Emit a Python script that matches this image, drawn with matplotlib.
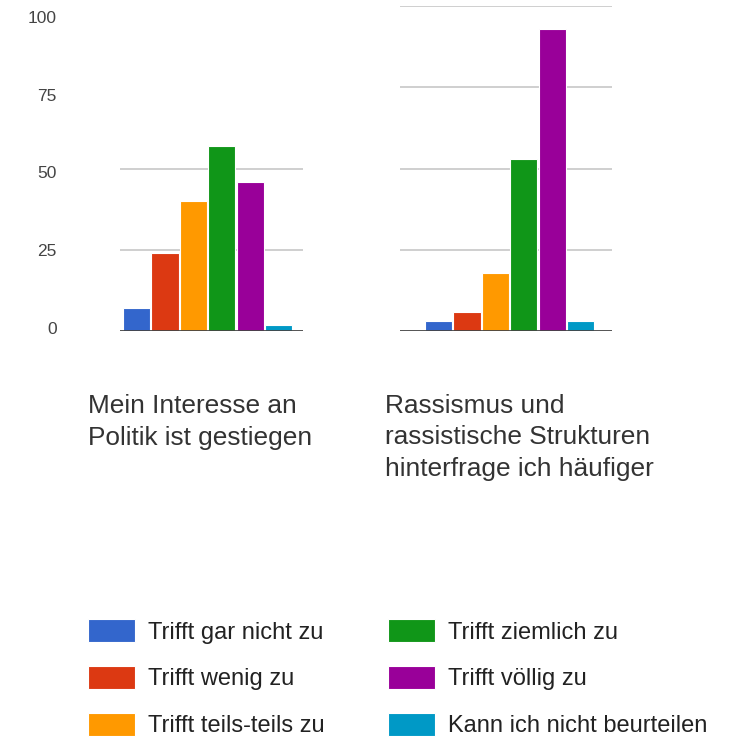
import matplotlib
matplotlib.use("Agg")
import matplotlib.pyplot as plt
import numpy as np
from matplotlib.patches import Patch

plt.rcParams["font.family"] = ["Liberation Sans", "DejaVu Sans"]

CATEGORIES = [
    "Trifft gar nicht zu",
    "Trifft wenig zu",
    "Trifft teils-teils zu",
    "Trifft ziemlich zu",
    "Trifft völlig zu",
    "Kann ich nicht beurteilen",
]
COLORS = ["#3366cc", "#dc3912", "#ff9900", "#109618", "#990099", "#0099c6"]

TITLES = [
    "Mein Interesse an\nPolitik ist gestiegen",
    "Rassismus und\nrassistische Strukturen\nhinterfrage ich häufiger",
]
VALUES_POLITIK = [7, 24, 40, 57, 46, 2]
VALUES_RASSISMUS = [3, 6, 18, 53, 93, 3]
Y_TICKS = [0, 25, 50, 75, 100]

W = H = 739
fig = plt.figure(figsize=(W / 100, H / 100), dpi=100)


def px_box(x0, y_top, x1, y_bot):
    return [x0 / W, 1 - y_bot / H, (x1 - x0) / W, (y_bot - y_top) / H]


def draw_panel(rect, values, xlim, grid_vals):
    ax = fig.add_axes(rect)
    x = np.arange(len(values))
    ax.bar(x, values, width=0.96, color=COLORS, edgecolor="white", linewidth=0.8, zorder=2)
    for g in grid_vals:
        ax.axhline(g, color="#cccccc", lw=1.3, zorder=1)
    ax.axhline(0, color="#444444", lw=2, zorder=3)
    ax.set_xlim(*xlim)
    ax.set_ylim(0, 100)
    ax.axis("off")
    return ax


draw_panel(px_box(120, 6, 303, 331), VALUES_POLITIK, (-0.58, 5.86), [25, 50])
draw_panel(px_box(400, 6, 612, 331), VALUES_RASSISMUS, (-1.355, 6.1), [25, 50, 75, 100])

# y tick labels
lab = fig.add_axes(px_box(58, 17, 60, 328))
lab.set_ylim(0, 100)
lab.set_yticks(Y_TICKS)
lab.set_yticklabels([str(v) for v in Y_TICKS], fontsize=12.5, color="#444444")
lab.tick_params(axis="y", length=0, pad=1)
lab.set_xticks([])
for s in lab.spines.values():
    s.set_visible(False)
lab.patch.set_visible(False)

# panel captions (baseline of first line at ~413 px)
for x0, title in zip([88, 385], TITLES):
    for i, line in enumerate(title.split("\n")):
        fig.text(x0 / W, 1 - (413 + 31.5 * i) / H, line, fontsize=18.9, color="#333333",
                 va="baseline", ha="left")

handles = [Patch(facecolor=c, edgecolor="white", lw=0.8) for c in COLORS]
fig.legend(handles, CATEGORIES, ncol=2, loc="upper left",
           bbox_to_anchor=(67 / W, 1 - 598 / H), frameon=False,
           fontsize=17, handlelength=2.0, handleheight=1.1,
           handletextpad=0.55, columnspacing=2.65, labelspacing=0.95,
           labelcolor="#222222")

fig.savefig("out.png", dpi=100, facecolor="white")
